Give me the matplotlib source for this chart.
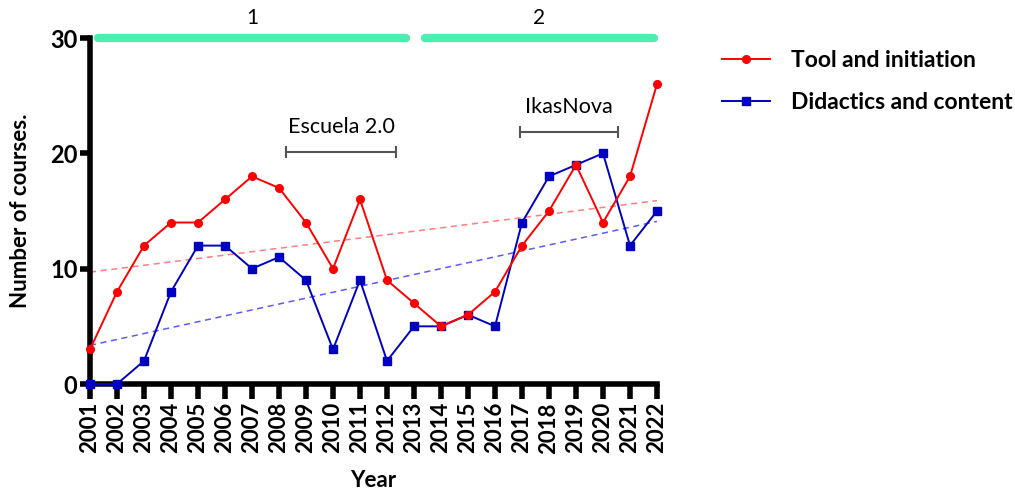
import numpy as np
import matplotlib
matplotlib.use("Agg")
import matplotlib.pyplot as plt

plt.rcParams['font.family'] = ['Lato', 'DejaVu Sans']

years = list(range(2001, 2023))
tool_init = [3, 8, 12, 14, 14, 16, 18, 17, 14, 10, 16, 9, 7, 5, 6, 8, 12, 15, 19, 14, 18, 26]
didactics = [0, 0, 2, 8, 12, 12, 10, 11, 9, 3, 9, 2, 5, 5, 6, 5, 14, 18, 19, 20, 12, 15]
series_labels = ["Tool and initiation", "Didactics and content"]
# trend lines (value at 2001, value at 2022)
trend_years = [2001, 2022]
tool_trend = [9.7, 15.9]
didactics_trend = [3.35, 14.1]
period_labels = ["1", "2"]
period_spans = [(2001.3, 2012.7), (2013.4, 2021.9)]
events = ["Escuela 2.0", "IkasNova"]
event_spans = [(2008.26, 2012.33), (2016.93, 2020.56)]
event_levels = [20.1, 21.85]

fig = plt.figure(figsize=(10.15, 4.91), dpi=100)
ax = fig.add_axes([90/1015, 107/491, 567/1015, 346/491])

ax.plot(trend_years, tool_trend, ls=(0, (4, 3)), color='#ff7f7f', lw=1.1, zorder=2)
ax.plot(trend_years, didactics_trend, ls=(0, (4, 3)), color='#5a5aff', lw=1.1, zorder=2)

ax.plot(years, tool_init, color='#ff0000', marker='o', ms=5.5, lw=1.4, label=series_labels[0],
        clip_on=False, zorder=4)
ax.plot(years, didactics, color='#0000c0', marker='s', ms=5.5, lw=1.4, label=series_labels[1],
        clip_on=False, zorder=3)

# period bars
for (a, b_), lab in zip(period_spans, period_labels):
    ax.plot([a, b_], [30, 30], color='#4defb0', lw=6, solid_capstyle='round',
            clip_on=False, zorder=5)
    ax.text((a + b_) / 2, 31.7, lab, ha='center', va='center', fontsize=15, clip_on=False)

# event brackets
for (a, b_), lev, lab in zip(event_spans, event_levels, events):
    ax.plot([a, b_], [lev, lev], color='#555555', lw=1.5, marker='|', ms=8, mew=1.5)
    ax.text((a + b_) / 2, lev + 2.2, lab, ha='center', va='center', fontsize=15.5)

ax.set_xlim(2001, 2022)
ax.set_ylim(0, 30)
ax.set_xticks(years)
ax.set_xticklabels([str(y) for y in years], rotation=90, fontsize=16, fontweight='bold')
ax.set_yticks([0, 10, 20, 30])
ax.set_yticklabels(['0', '10', '20', '30'], fontsize=17, fontweight='bold')
for s in ['top', 'right']:
    ax.spines[s].set_visible(False)
for s in ['left', 'bottom']:
    ax.spines[s].set_linewidth(4)
ax.tick_params(axis='x', length=11, width=4, pad=2)
ax.tick_params(axis='y', length=7, width=4, pad=2)
ax.set_xlabel('Year', fontsize=16, fontweight='bold', labelpad=12)
ax.set_ylabel('Number of courses.', fontsize=16, fontweight='bold', labelpad=14)

leg = ax.legend(loc='upper left', bbox_to_anchor=((722-90)/567, 0.965), frameon=False,
                prop={'size': 16.5, 'weight': 'bold'}, handlelength=2.1, handletextpad=0.9,
                labelspacing=0.93, borderpad=0, borderaxespad=0)

fig.savefig('out.png', dpi=100)
